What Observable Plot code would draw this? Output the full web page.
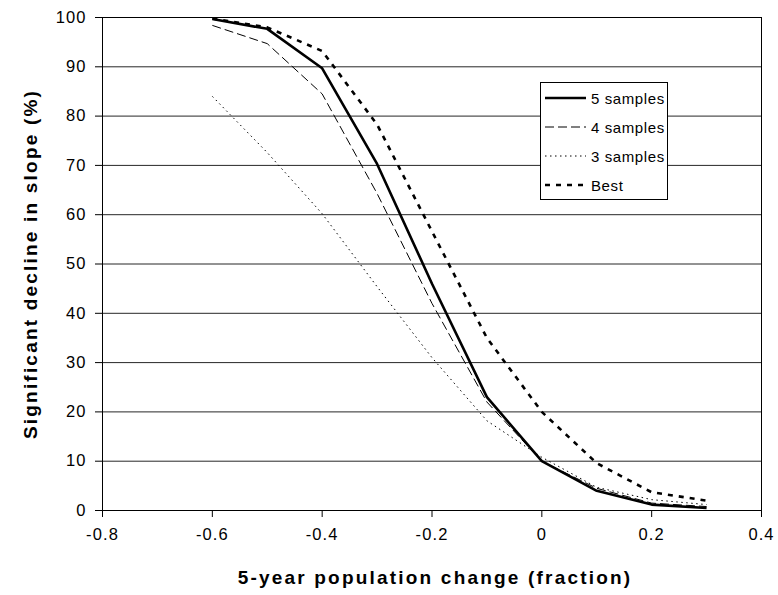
<!DOCTYPE html>
<html><head><meta charset="utf-8">
<script src="https://cdn.jsdelivr.net/npm/d3@7"></script>
<script src="https://cdn.jsdelivr.net/npm/@observablehq/plot@0.6"></script>
<style>
body{margin:0;background:#fff;}
#wrap{position:relative;width:778px;height:595px;font-family:"Liberation Sans",Arial,sans-serif;}
#legend{position:absolute;left:540px;top:82px;width:128px;height:118px;border:1px solid #000;background:#fff;box-sizing:border-box;}
#legend .row{position:absolute;left:0;height:20px;display:flex;align-items:center;}
#legend .row span{font-size:15px;letter-spacing:0.6px;margin-left:4px;}
</style></head><body><div id="wrap"></div>
<script>
const popChange = [-0.6, -0.5, -0.4, -0.3, -0.2, -0.1, 0, 0.1, 0.2, 0.3];
const samples5 = [99.7, 97.7, 89.7, 70.3, 46, 23, 10, 4, 1.2, 0.5];
const samples4 = [98.4, 94.7, 84.5, 64.3, 42, 22, 10, 4.5, 1.5, 0.8];
const samples3 = [84, 72.6, 60.2, 45.4, 31, 18.2, 10.8, 4.7, 2.2, 1.2];
const best = [99.8, 98, 93.2, 78.3, 56.6, 35, 20, 9.6, 3.7, 2];
const seriesNames = ["5 samples", "4 samples", "3 samples", "Best"];
const xTicks = [-0.8, -0.6, -0.4, -0.2, 0, 0.2, 0.4];
const xTickLabels = ["-0.8", "-0.6", "-0.4", "-0.2", "0", "0.2", "0.4"];
const yTicks = [0, 10, 20, 30, 40, 50, 60, 70, 80, 90, 100];
const xTitle = "5-year population change (fraction)";
const yTitle = "Significant decline in slope (%)";

const styles = [
  {stroke: "#000", strokeWidth: 2.6, strokeDasharray: null},
  {stroke: "#000", strokeWidth: 1, strokeDasharray: "9,4"},
  {stroke: "#000", strokeWidth: 1, strokeDasharray: "1.5,3.5"},
  {stroke: "#000", strokeWidth: 2.6, strokeDasharray: "5,6"}
];
const allValues = [samples5, samples4, samples3, best];
const tables = allValues.map(vals => popChange.map((x, i) => ({x, y: vals[i]})));

const lineMarks = tables.map((t, k) => Plot.line(t, {x: "x", y: "y", stroke: styles[k].stroke, strokeWidth: styles[k].strokeWidth, strokeDasharray: styles[k].strokeDasharray, strokeLinejoin: "miter", strokeLinecap: "butt"}));

const chart = Plot.plot({
  width: 778, height: 595,
  marginLeft: 102, marginRight: 17, marginTop: 17, marginBottom: 85,
  x: {domain: [-0.8, 0.4]},
  y: {domain: [0, 100]},
  style: {fontFamily: "Liberation Sans, Arial, sans-serif", fontSize: "16.5px", letterSpacing: "1.1px", color: "#000", background: "#fff", overflow: "visible"},
  marks: [
    Plot.gridY(yTicks, {stroke: "#000", strokeOpacity: 0.85, strokeWidth: 1}),
    Plot.frame({stroke: "#000"}),
    Plot.axisX(xTicks, {tickSize: 7, tickPadding: 11, tickFormat: (d) => xTickLabels[xTicks.indexOf(d)], label: null, stroke: "#000"}),
    Plot.axisY(yTicks, {tickSize: 7, tickPadding: 9, label: null, stroke: "#000"}),
    ...lineMarks,
    Plot.text([xTitle], {text: d => d, frameAnchor: "bottom", textAnchor: "middle", lineAnchor: "middle", dy: 67, dx: 3, fontWeight: "bold", fontSize: 19}),
    Plot.text([yTitle], {text: d => d, frameAnchor: "left", textAnchor: "middle", lineAnchor: "middle", dx: -72, rotate: -90, fontWeight: "bold", fontSize: 19})
  ]
});
const wrap = document.getElementById("wrap");
wrap.appendChild(chart);
d3.select(chart).selectAll("text").filter(function() { return this.textContent === xTitle || this.textContent === yTitle; })
  .style("letter-spacing", "2.2px");

// legend
const legend = document.createElement("div");
legend.id = "legend";
const rowTops = [5, 34, 63, 92];
seriesNames.forEach((name, k) => {
  const row = document.createElement("div");
  row.className = "row";
  row.style.top = rowTops[k] + "px";
  const svg = d3.create("svg").attr("width", 46).attr("height", 20);
  svg.append("line").attr("x1", 4).attr("x2", 45).attr("y1", 10).attr("y2", 10)
    .attr("stroke", styles[k].stroke).attr("stroke-width", styles[k].strokeWidth)
    .attr("stroke-dasharray", styles[k].strokeDasharray);
  row.appendChild(svg.node());
  const s = document.createElement("span");
  s.textContent = name;
  row.appendChild(s);
  legend.appendChild(row);
});
wrap.appendChild(legend);
</script></body></html>
